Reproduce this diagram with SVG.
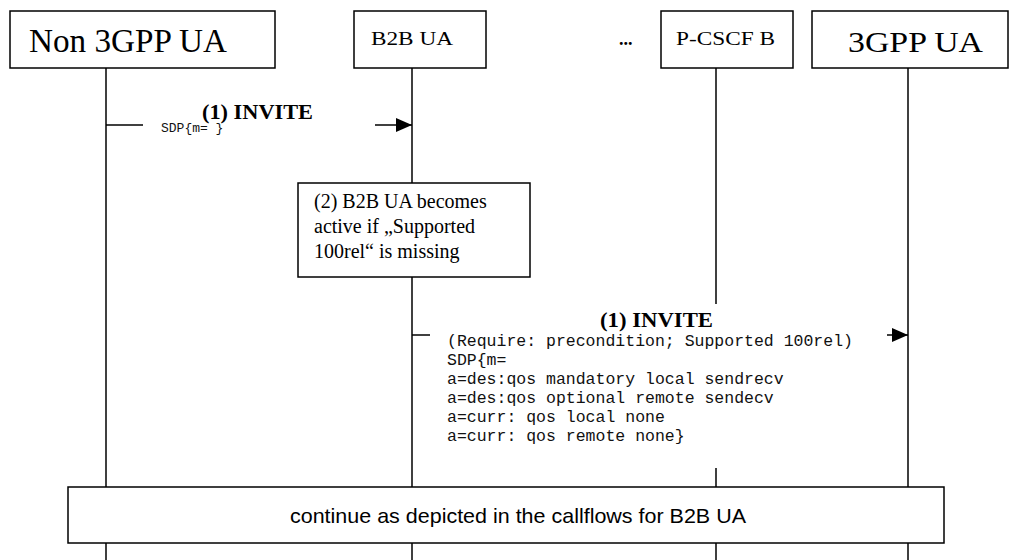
<svg xmlns="http://www.w3.org/2000/svg" width="1010" height="560" viewBox="0 0 1010 560">
<style>
.box{fill:#fff;stroke:#000;stroke-width:1.5}
.life{stroke:#000;stroke-width:1.5;fill:none}
.msg{stroke:#000;stroke-width:1.5;fill:none}
.serif{font-family:"Liberation Serif","Times New Roman",serif;fill:#000}
.mono{font-family:"Liberation Mono","Courier New",monospace;fill:#111}
.sans{font-family:"Liberation Sans",Arial,sans-serif;fill:#000}
.bold{font-weight:bold}
</style>
<defs>
<marker id="arr" markerWidth="16" markerHeight="14" refX="16" refY="7" orient="auto" markerUnits="userSpaceOnUse">
<path d="M0,0 L16,7 L0,14 Z" fill="#000"/>
</marker>
</defs>
<g id="lifelines">
<line class="life" x1="106" y1="68" x2="106" y2="560"/>
<line class="life" x1="412" y1="68" x2="412" y2="560"/>
<line class="life" x1="716" y1="68" x2="716" y2="304"/>
<line class="life" x1="716" y1="468" x2="716" y2="560"/>
<line class="life" x1="908" y1="68" x2="908" y2="560"/>
</g>
<g id="node-non3gpp">
<rect class="box" x="10" y="11" width="265" height="57"/>
<text class="serif" x="29" y="52" font-size="33" textLength="198" lengthAdjust="spacingAndGlyphs">Non 3GPP UA</text>
</g>
<g id="node-b2bua">
<rect class="box" x="354" y="11" width="132" height="57"/>
<text class="serif" x="371" y="45" font-size="18" textLength="82" lengthAdjust="spacingAndGlyphs">B2B UA</text>
</g>
<g id="ellipsis">
<text class="serif bold" x="619" y="45" font-size="18">...</text>
</g>
<g id="node-pcscfb">
<rect class="box" x="661" y="11" width="132" height="57"/>
<text class="serif" x="676" y="45" font-size="18" textLength="99" lengthAdjust="spacingAndGlyphs">P-CSCF B</text>
</g>
<g id="node-3gppua">
<rect class="box" x="812" y="11" width="196" height="57"/>
<text class="serif" x="848" y="52" font-size="30" textLength="135" lengthAdjust="spacingAndGlyphs">3GPP UA</text>
</g>
<g id="connectors">
<line class="msg" x1="106" y1="125" x2="143" y2="125"/>
<line class="msg" x1="375" y1="125" x2="412" y2="125" marker-end="url(#arr)"/>
<line class="msg" x1="412" y1="335" x2="430" y2="335"/>
<line class="msg" x1="887" y1="335" x2="908" y2="335" marker-end="url(#arr)"/>
</g>
<g id="label-msg1">
<text class="serif bold" x="202" y="119" font-size="21" textLength="111" lengthAdjust="spacingAndGlyphs">(1) INVITE</text>
<text class="mono" x="161" y="132" font-size="13">SDP{m=  }</text>
</g>
<g id="node-note2">
<rect class="box" x="298" y="183" width="232" height="94"/>
<text class="serif" font-size="20">
<tspan x="314" y="208">(2) B2B UA becomes</tspan>
<tspan x="314" y="233">active if „Supported</tspan>
<tspan x="314" y="258">100rel“ is missing</tspan>
</text>
</g>
<g id="label-msg2">
<text class="serif bold" x="600" y="327" font-size="21" textLength="113" lengthAdjust="spacingAndGlyphs">(1) INVITE</text>
<text class="mono" font-size="16.5">
<tspan x="447" y="346">(Require: precondition; Supported 100rel)</tspan>
<tspan x="447" y="365">SDP{m=</tspan>
<tspan x="447" y="384">a=des:qos mandatory local sendrecv</tspan>
<tspan x="447" y="403">a=des:qos optional remote sendecv</tspan>
<tspan x="447" y="422">a=curr: qos local none</tspan>
<tspan x="447" y="441">a=curr: qos remote none}</tspan>
</text>
</g>
<g id="node-continue">
<rect class="box" x="68" y="487" width="876" height="56"/>
<text class="sans" x="290" y="523" font-size="21" textLength="456" lengthAdjust="spacingAndGlyphs">continue as depicted in the callflows for B2B UA</text>
</g>
</svg>
